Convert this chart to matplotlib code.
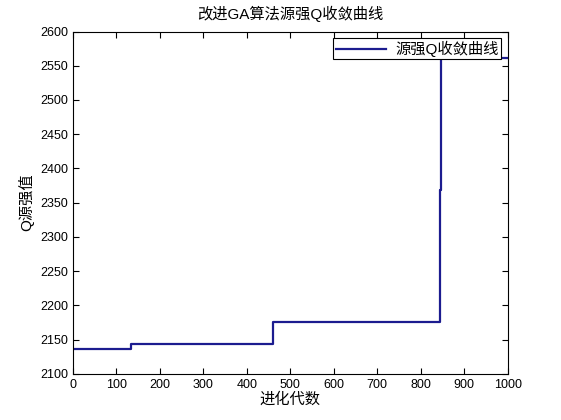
import matplotlib
matplotlib.use("Agg")
import matplotlib.pyplot as plt

plt.rcParams['font.family'] = ['Liberation Sans', 'Noto Sans CJK SC', 'DejaVu Sans']

# breakpoints of the convergence curve (generation, Q value)
gens = [0, 134, 460, 845, 847, 1000]
qvals = [2136, 2143.5, 2175.5, 2368, 2562, 2562]
xticks = [0, 100, 200, 300, 400, 500, 600, 700, 800, 900, 1000]
yticks = [2100, 2150, 2200, 2250, 2300, 2350, 2400, 2450, 2500, 2550, 2600]

fig = plt.figure(figsize=(5.61, 4.2), dpi=100)
ax = fig.add_axes([0.13, 0.11, 0.775, 0.815])
ax.plot(gens, qvals, drawstyle='steps-post', color='#1c1c8f', linewidth=1.6,
        label='源强Q收敛曲线')
ax.set_xlim(0, 1000)
ax.set_ylim(2100, 2600)
ax.set_xticks(xticks)
ax.set_yticks(yticks)
ax.tick_params(direction='in', top=True, right=True, labelsize=9, length=4)
for s in ax.spines.values():
    s.set_linewidth(0.8)
ax.set_title('改进GA算法源强Q收敛曲线', fontsize=11, pad=9)
ax.set_xlabel('进化代数', fontsize=11, labelpad=1)
ax.set_ylabel('Q源强值', fontsize=11, labelpad=4)
leg = ax.legend(loc='upper right', fontsize=11, fancybox=False, framealpha=1,
                edgecolor='black', borderaxespad=0.45, handlelength=3.3,
                borderpad=0.15, handletextpad=0.6)
leg.get_frame().set_linewidth(0.8)
fig.savefig('out.png', dpi=100)
